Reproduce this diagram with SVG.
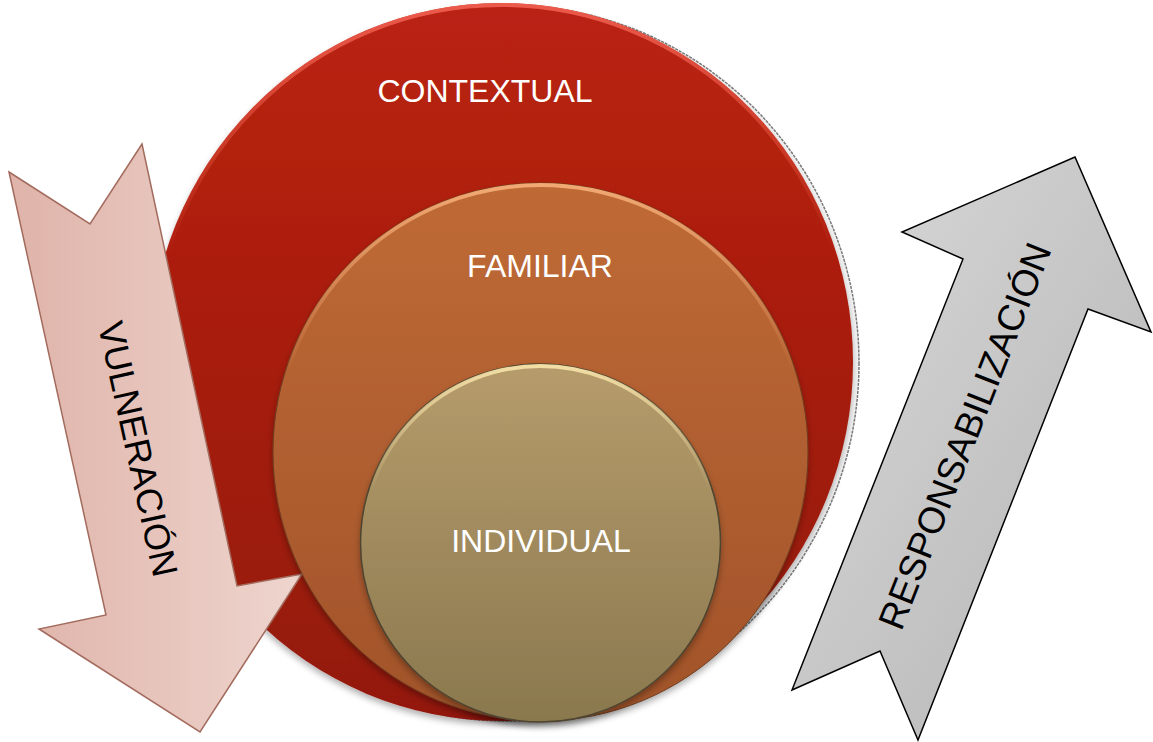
<svg xmlns="http://www.w3.org/2000/svg" width="1153" height="742" viewBox="0 0 1153 742">
<defs>
<style>
.lbl{font-family:"Liberation Sans",Arial,sans-serif;font-size:32px;fill:#ffffff;text-anchor:middle;dominant-baseline:central}
.albl{font-family:"Liberation Sans",Arial,sans-serif;font-size:36px;fill:#000000;text-anchor:middle;dominant-baseline:central}
</style>
<linearGradient id="gRed" x1="0" y1="0" x2="0" y2="1">
<stop offset="0" stop-color="#ba2212"/><stop offset="1" stop-color="#93190c"/>
</linearGradient>
<linearGradient id="gOra" x1="0" y1="0" x2="0" y2="1">
<stop offset="0" stop-color="#bf6a36"/><stop offset="1" stop-color="#a1532a"/>
</linearGradient>
<linearGradient id="gInd" x1="0" y1="0" x2="0" y2="1">
<stop offset="0" stop-color="#b69c6c"/><stop offset="1" stop-color="#8a784e"/>
</linearGradient>
<linearGradient id="rimRed" x1="0" y1="0" x2="0" y2="1">
<stop offset="0" stop-color="#f06050" stop-opacity="0.9"/><stop offset="0.35" stop-color="#f06050" stop-opacity="0"/>
</linearGradient>
<linearGradient id="rimOra" x1="0" y1="0" x2="0" y2="1">
<stop offset="0" stop-color="#f7b07a" stop-opacity="0.9"/><stop offset="0.35" stop-color="#f7b07a" stop-opacity="0"/>
</linearGradient>
<linearGradient id="rimInd" x1="0" y1="0" x2="0" y2="1">
<stop offset="0" stop-color="#f5e2a8" stop-opacity="0.95"/><stop offset="0.35" stop-color="#f5e2a8" stop-opacity="0"/>
</linearGradient>
<linearGradient id="gPink" x1="0" y1="0" x2="1" y2="0">
<stop offset="0" stop-color="#dfb3a9"/><stop offset="1" stop-color="#eed5ce"/>
</linearGradient>
<linearGradient id="gGray" x1="0" y1="0" x2="1" y2="1">
<stop offset="0" stop-color="#dadada"/><stop offset="1" stop-color="#b3b3b3"/>
</linearGradient>
<filter id="shadow" x="-10%" y="-10%" width="120%" height="120%">
<feDropShadow dx="0" dy="4" stdDeviation="3" flood-color="#000" flood-opacity="0.3"/>
</filter>
</defs>

<g id="contextual">
<ellipse cx="507" cy="363" rx="352" ry="358" fill="#f4f4f4" stroke="#7a7a7a" stroke-width="1.5" stroke-dasharray="3 1"/>
<ellipse cx="501" cy="362" rx="352" ry="359" fill="url(#gRed)" filter="url(#shadow)"/>
<ellipse cx="501" cy="362" rx="350" ry="357" fill="none" stroke="url(#rimRed)" stroke-width="4"/>
<text class="lbl" x="485" y="91">CONTEXTUAL</text>
</g>

<g id="vulneracion">
<path d="M9,172 L90,224 L142,144 L237,586 L302,574 L200,732 L39,629 L106,615 Z" fill="url(#gPink)" stroke="#a36b5e" stroke-width="1.5" stroke-linejoin="miter"/>
<text class="albl" transform="translate(138,449) rotate(77.6)">VULNERACIÓN</text>
</g>

<g id="familiar">
<ellipse cx="540.5" cy="452" rx="267.5" ry="269" fill="url(#gOra)" stroke="#6e3d20" stroke-width="1" filter="url(#shadow)"/>
<ellipse cx="540.5" cy="452" rx="265.5" ry="267" fill="none" stroke="url(#rimOra)" stroke-width="4"/>
<text class="lbl" x="540" y="266">FAMILIAR</text>
</g>

<g id="individual">
<ellipse cx="540.5" cy="543" rx="180" ry="179" fill="url(#gInd)" stroke="#4e4430" stroke-width="1.5" filter="url(#shadow)"/>
<ellipse cx="540.5" cy="543" rx="178" ry="177" fill="none" stroke="url(#rimInd)" stroke-width="4"/>
<text class="lbl" x="541" y="541">INDIVIDUAL</text>
</g>

<g id="responsabilizacion">
<path d="M792,690 L880,651 L918,740 L1088,309 L1151,332 L1075,157 L902,232 L963,259 Z" fill="url(#gGray)" stroke="#000000" stroke-width="1.5" stroke-linejoin="miter"/>
<text class="albl" style="font-size:37px" transform="translate(965,436) rotate(-68.5)">RESPONSABILIZACIÓN</text>
</g>

<g id="connectors"/>
</svg>
